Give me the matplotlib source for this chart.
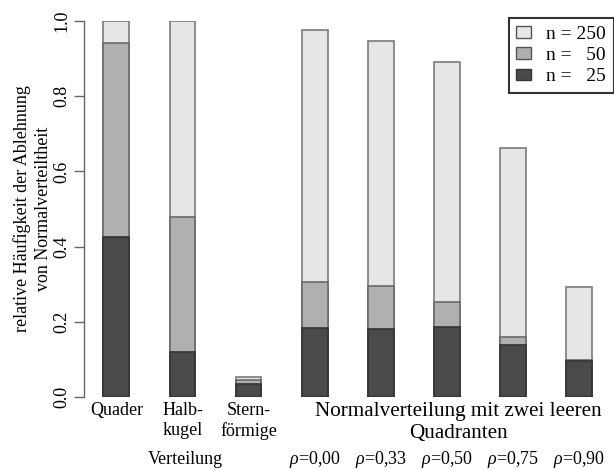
import matplotlib.pyplot as plt
import matplotlib.transforms as mtransforms
from matplotlib.patches import Patch

plt.rcParams['font.family'] = ['Liberation Serif', 'DejaVu Serif']
plt.rcParams['mathtext.fontset'] = 'custom'
plt.rcParams['mathtext.rm'] = 'Liberation Serif'
plt.rcParams['mathtext.it'] = 'Liberation Serif:italic'

# Ablehnungsraten je Verteilung (Balken liegen übereinander, nicht gestapelt)
categories = ['Quader', 'Halb-\nkugel', 'Stern-\nförmige', '', '', '', '', '']
rho_labels = ['', '', '', r'$\rho$=0,00', r'$\rho$=0,33', r'$\rho$=0,50',
              r'$\rho$=0,75', r'$\rho$=0,90']
n250 = [1.000, 1.000, 0.053, 0.976, 0.947, 0.892, 0.663, 0.292]
n50 = [0.942, 0.478, 0.045, 0.305, 0.295, 0.252, 0.160, 0.098]
n25 = [0.426, 0.120, 0.035, 0.183, 0.180, 0.186, 0.138, 0.096]
legend_labels = ['n = 250', 'n =   50', 'n =   25']
yticks = [0.0, 0.2, 0.4, 0.6, 0.8, 1.0]

c_light, c_mid, c_dark = '#e6e6e6', '#b0b0b0', '#4a4a4a'

fig = plt.figure(figsize=(6.14, 4.70), dpi=100)
ax = fig.add_axes([84 / 614, 73 / 470, 530 / 614, 376 / 470])

x = list(range(len(n250)))
w = 0.39
ax.bar(x, n250, width=w, color=c_light, edgecolor='#7a7a7a', linewidth=1.2)
ax.bar(x, n50, width=w, color=c_mid, edgecolor='#6a6a6a', linewidth=1.2)
ax.bar(x, n25, width=w, color=c_dark, edgecolor='#333333', linewidth=1.2)

ax.set_xlim(-0.49, 7.53)
ax.set_ylim(0, 1)
for s in ['top', 'right', 'bottom']:
    ax.spines[s].set_visible(False)
ax.spines['left'].set_color('#666666')
ax.spines['left'].set_linewidth(1.0)
ax.set_xticks([])
ax.set_yticks(yticks)
ax.set_yticklabels([f'{v:.1f}' for v in yticks], rotation=90, va='center', fontsize=13)
ax.tick_params(axis='y', length=7, width=1.0, color='#666666', pad=3)

ax.set_ylabel('relative Häufigkeit der Ablehnung\nvon Normalverteiltheit', fontsize=13,
              labelpad=1, linespacing=1.25)

trans = mtransforms.blended_transform_factory(ax.transData, fig.transFigure)
for xi, lab in zip(x, categories):
    if lab:
        ax.text(xi, 1 - 402 / 470, lab, transform=trans, ha='center', va='top',
                fontsize=13, linespacing=1.2)
for xi, lab in zip(x, rho_labels):
    if lab:
        ax.text(xi, 1 - 460 / 470, lab, transform=trans, ha='center', va='center',
                fontsize=13)
ax.text(1.05, 1 - 460 / 470, 'Verteilung', transform=trans, ha='center', va='center',
        fontsize=13)
ax.text(5.17, 1 - 402 / 470, 'Normalverteilung mit zwei leeren\nQuadranten',
        transform=trans, ha='center', va='top', fontsize=15.2, linespacing=1.2)

handles = [Patch(facecolor=c, edgecolor=e, linewidth=1.0)
           for c, e in [(c_light, '#555555'), (c_mid, '#555555'), (c_dark, '#333333')]]
leg = fig.legend(handles, legend_labels, loc='upper right',
                 bbox_to_anchor=(1.0, 1 - 18 / 470), fontsize=14, frameon=True,
                 fancybox=False, handlelength=0.75, handleheight=0.55,
                 handletextpad=0.8, borderpad=0.4, labelspacing=0.22,
                 borderaxespad=0)
leg.get_frame().set_edgecolor('black')
leg.get_frame().set_linewidth(1.5)

fig.savefig('out.png', dpi=100)
